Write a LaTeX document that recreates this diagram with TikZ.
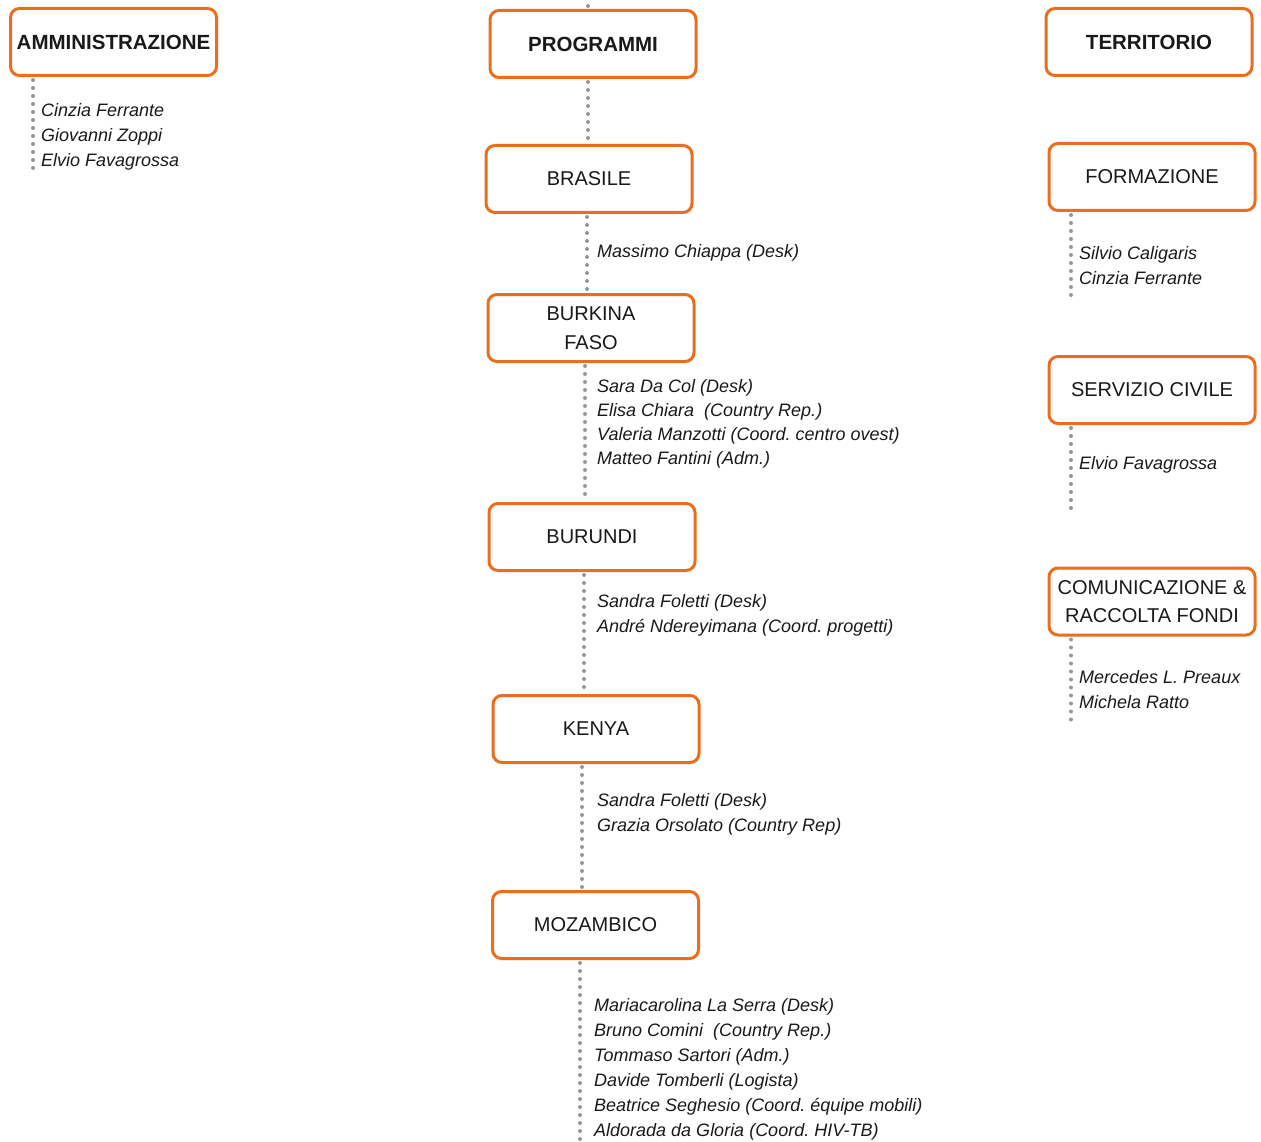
\documentclass[tikz,border=0pt]{standalone}
\usepackage{fontspec}
\setmainfont{Liberation Sans}
\frenchspacing
\begin{document}
\begin{tikzpicture}[x=1pt,y=-1pt,
  box/.style={draw=boxorange, line width=3pt, rounded corners=9pt, fill=white,
    minimum width=206pt, minimum height=67pt, inner sep=0pt, align=center,
    font=\fontsize{20}{28.5}\selectfont, text=black!90},
  boldbox/.style={box, font=\fontsize{20.5}{24}\selectfont\bfseries},
  names/.style={anchor=west, inner sep=0pt, align=left,
    font=\fontsize{18}{25}\selectfont\itshape, text=black!90},
  dots/.style={draw=dotgray, line width=4pt, line cap=round,
    dash pattern=on 0pt off 8pt, shorten <=3pt, shorten >=3pt}]
\definecolor{boxorange}{RGB}{234,110,30}
\definecolor{dotgray}{RGB}{150,150,150}
\useasboundingbox (0,0) rectangle (1261,1142);

% top level
\node[boldbox] (admin) at (113.5,42) {AMMINISTRAZIONE};
\node[boldbox] (prog) at (593,44) {PROGRAMMI};
\node[boldbox] (terr) at (1149,42) {TERRITORIO};

% programmi column
\node[box] (brasile) at (589,179) {BRASILE};
\node[box] (burkina) at (591,328) {BURKINA\\FASO};
\node[box] (burundi) at (592,537) {BURUNDI};
\node[box] (kenya) at (596,729) {KENYA};
\node[box] (mozambico) at (595.5,925) {MOZAMBICO};

% territorio column
\node[box] (formazione) at (1152,177) {FORMAZIONE};
\node[box] (servizio) at (1152,390) {SERVIZIO CIVILE};
\node[box] (comunicazione) at (1152,601.5) {COMUNICAZIONE \&\\RACCOLTA FONDI};

% free ends
\coordinate (progtop) at (588,-4);
\coordinate (adminend) at (33,175);
\coordinate (mozend) at (580,1143);
\coordinate (formend) at (1071,303);
\coordinate (servend) at (1071,515);
\coordinate (comend) at (1071,725);

% connectors
\draw[dots, shorten >=0pt] ([xshift=-5pt]prog.north) -- (progtop);
\draw[dots] (admin.south west -| adminend) -- (adminend);
\draw[dots] ([xshift=-5pt]prog.south) -- ([xshift=-1pt]brasile.north);
\draw[dots] ([xshift=-2pt]brasile.south) -- ([xshift=-4pt]burkina.north);
\draw[dots] ([xshift=-6pt]burkina.south) -- ([xshift=-7pt]burundi.north);
\draw[dots] ([xshift=-8pt]burundi.south) -- ([xshift=-12pt]kenya.north);
\draw[dots] ([xshift=-14pt]kenya.south) -- ([xshift=-13.5pt]mozambico.north);
\draw[dots] (mozambico.south -| mozend) -- (mozend);
\draw[dots] (formazione.south -| formend) -- (formend);
\draw[dots] (servizio.south -| servend) -- (servend);
\draw[dots] (comunicazione.south -| comend) -- (comend);

% names
\node[names] (adminnames) at (41,137) {Cinzia Ferrante\\Giovanni Zoppi\\Elvio Favagrossa};
\node[names] (brasilenames) at (597,253) {Massimo Chiappa (Desk)};
\node[names, font=\fontsize{18}{24}\selectfont\itshape] (burkinanames) at (597,424)
  {Sara Da Col (Desk)\\Elisa Chiara\ \ (Country Rep.)\\Valeria Manzotti (Coord. centro ovest)\\Matteo Fantini (Adm.)};
\node[names] (burundinames) at (597,615.5) {Sandra Foletti (Desk)\\Andr\'e Ndereyimana (Coord. progetti)};
\node[names] (kenyanames) at (597,814.5) {Sandra Foletti (Desk)\\Grazia Orsolato (Country Rep)};
\node[names] (mozambiconames) at (594,1069.5)
  {Mariacarolina La Serra (Desk)\\Bruno Comini\ \ (Country Rep.)\\Tommaso Sartori (Adm.)\\Davide Tomberli (Logista)\\Beatrice Seghesio (Coord. \'equipe mobili)\\Aldorada da Gloria (Coord. HIV-TB)};
\node[names] (formnames) at (1079,265.5) {Silvio Caligaris\\Cinzia Ferrante};
\node[names] (servnames) at (1079,465) {Elvio Favagrossa};
\node[names] (comnames) at (1079,689.5) {Mercedes L. Preaux\\Michela Ratto};
\end{tikzpicture}
\end{document}
